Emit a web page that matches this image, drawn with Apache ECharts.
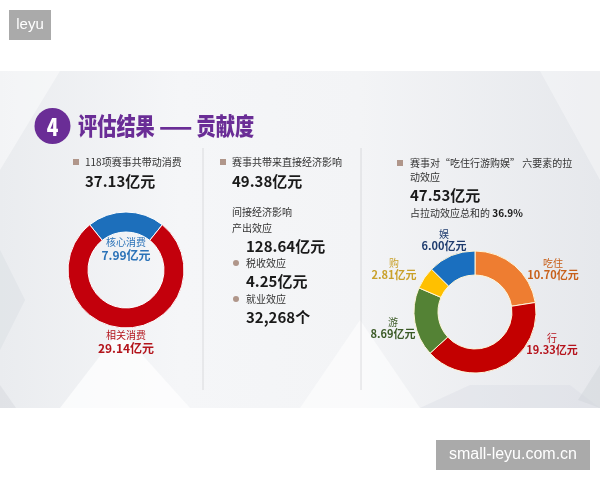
<!DOCTYPE html>
<html>
<head>
<meta charset="utf-8">
<script src="https://cdn.jsdelivr.net/npm/echarts@6/dist/echarts.min.js"></script>
<style>html,body{margin:0;padding:0;background:#fff;}#c{width:600px;height:480px;}</style>
</head>
<body>
<div id="c"></div>
<script>
// ---- data ----
var titleText = '评估结果 —— 贡献度';
var leftHeader = '118项赛事共带动消费';
var leftTotal = '37.13亿元';
var consumeNames = ['核心消费', '相关消费'];
var consumeValues = [7.99, 29.14];

var midHeader = '赛事共带来直接经济影响';
var midDirect = '49.38亿元';
var midIndirectTitle = '间接经济影响';
var effectNames = ['产出效应', '税收效应', '就业效应'];
var effectValues = ['128.64亿元', '4.25亿元', '32,268个'];

var rightHeader1 = '赛事对“吃住行游购娱” 六要素的拉';
var rightHeader2 = '动效应';
var rightTotal = '47.53亿元';
var rightShareLabel = '占拉动效应总和的 ';
var rightShare = '36.9%';
var elemNames = ['吃住', '行', '游', '购', '娱'];
var elemValues = [10.70, 19.33, 8.69, 2.81, 6.00];

// ---- styles ----
var FONT = '"Noto Sans CJK SC", "Noto Sans", sans-serif';
var consumeColors = ['#1d6fbb', '#c3000c'];
var consumeLabelColors = ['#2a72b8', '#b3141b'];
var elemColors = ['#ee7d31', '#c30000', '#548235', '#ffc000', '#1a6fbf'];
var elemLabelColors = ['#c8601a', '#b5121b', '#3b5a26', '#c9a12a', '#1f3c6e'];
var elemLabelPos = [[553, 263], [552, 338], [393, 322], [394, 263], [444, 234]];

var chart = echarts.init(document.getElementById('c'));

function txt(text, x, y, size, color, weight, align, extra) {
  var o = {
    type: 'text', z: 5,
    style: {
      text: text, x: x, y: y,
      font: (weight || 'normal') + ' ' + size + 'px ' + FONT,
      fill: color, textAlign: align || 'left', textVerticalAlign: 'middle'
    }
  };
  if (extra) for (var k in extra) o[k] = extra[k];
  return o;
}
function sq(x, y) {
  return { type: 'rect', z: 5, shape: { x: x - 3, y: y - 3, width: 6, height: 6 }, style: { fill: '#b0968a' } };
}
function dot(x, y) {
  return { type: 'circle', z: 5, shape: { cx: x, cy: y, r: 3 }, style: { fill: '#b0968a' } };
}

var sumConsume = consumeValues.reduce(function (a, b) { return a + b; }, 0);
var leftStart = 90 + consumeValues[0] / sumConsume * 360 / 2;

var graphics = [
  // slide background
  { type: 'rect', z: -10, shape: { x: 0, y: 71, width: 600, height: 337 },
    style: { fill: new echarts.graphic.LinearGradient(0, 0, 1, 0, [
      { offset: 0, color: '#eaecef' }, { offset: 0.3, color: '#f5f6f8' },
      { offset: 0.6, color: '#f3f4f6' }, { offset: 1, color: '#e6e8ec' }]) } },
  { type: 'polygon', z: -9, shape: { points: [[0, 71], [60, 71], [0, 170]] }, style: { fill: 'rgba(255,255,255,0.45)' } },
  { type: 'polygon', z: -9, shape: { points: [[0, 250], [25, 300], [0, 350]] }, style: { fill: 'rgba(205,210,216,0.25)' } },
  { type: 'polygon', z: -9, shape: { points: [[0, 385], [16, 408], [0, 408]] }, style: { fill: 'rgba(205,210,216,0.35)' } },
  { type: 'polygon', z: -9, shape: { points: [[60, 408], [120, 330], [190, 408]] }, style: { fill: 'rgba(255,255,255,0.7)' } },
  { type: 'polygon', z: -9, shape: { points: [[300, 408], [360, 320], [420, 408]] }, style: { fill: 'rgba(255,255,255,0.55)' } },
  { type: 'polygon', z: -9, shape: { points: [[420, 408], [470, 385], [570, 385], [600, 408]] }, style: { fill: 'rgba(215,219,225,0.35)' } },
  { type: 'polygon', z: -9, shape: { points: [[540, 71], [600, 71], [600, 180]] }, style: { fill: 'rgba(255,255,255,0.35)' } },
  { type: 'polygon', z: -9, shape: { points: [[578, 400], [600, 365], [600, 408]] }, style: { fill: 'rgba(205,210,216,0.4)' } },
  // dividers
  { type: 'line', z: -5, shape: { x1: 203, y1: 148, x2: 203, y2: 390 }, style: { stroke: 'rgba(200,200,205,0.6)', lineWidth: 1 } },
  { type: 'line', z: -5, shape: { x1: 361, y1: 148, x2: 361, y2: 390 }, style: { stroke: 'rgba(200,200,205,0.6)', lineWidth: 1 } },

  // watermarks
  { type: 'rect', z: 20, shape: { x: 9, y: 10, width: 42, height: 30 }, style: { fill: '#aaaaaa' } },
  { type: 'text', z: 21, style: { text: 'leyu', x: 30, y: 25, font: '15px "Liberation Sans", Arial, sans-serif', fill: '#fff', textAlign: 'center', textVerticalAlign: 'middle' } },
  { type: 'rect', z: 20, shape: { x: 436, y: 440, width: 154, height: 30 }, style: { fill: '#aaaaaa' } },
  { type: 'text', z: 21, style: { text: 'small-leyu.com.cn', x: 513, y: 455, font: '16px "Liberation Sans", Arial, sans-serif', fill: '#fff', textAlign: 'center', textVerticalAlign: 'middle' } },

  // title
  { type: 'circle', z: 5, shape: { cx: 52.5, cy: 126, r: 18 }, style: { fill: '#6a2d96' } },
  txt('4', 52.5, 127, 24, '#fff', '900', 'center', { scaleX: 0.8, originX: 52.5, originY: 127 }),
  txt(titleText, 78, 126, 24, '#6a2d96', '900', 'left', { scaleX: 0.8, originX: 78, originY: 126 }),

  // left column
  sq(76, 162),
  txt(leftHeader, 85, 162, 10, '#333', 'normal'),
  txt(leftTotal, 85, 181, 15, '#1a1a1a', 'bold'),
  txt(consumeNames[0], 126, 242, 10, consumeLabelColors[0], 'normal', 'center'),
  txt(consumeValues[0].toFixed(2) + '亿元', 126, 255, 12, consumeLabelColors[0], 'bold', 'center'),
  txt(consumeNames[1], 126, 335, 10, consumeLabelColors[1], 'normal', 'center'),
  txt(consumeValues[1].toFixed(2) + '亿元', 126, 348, 12, consumeLabelColors[1], 'bold', 'center'),

  // middle column
  sq(223, 162),
  txt(midHeader, 232, 162, 10, '#333', 'normal'),
  txt(midDirect, 232, 181, 15, '#1a1a1a', 'bold'),
  txt(midIndirectTitle, 232, 212, 10, '#333', 'normal'),
  txt(effectNames[0], 232, 228, 10, '#333', 'normal'),
  txt(effectValues[0], 246, 246, 15, '#1a1a1a', 'bold'),
  dot(236, 263),
  txt(effectNames[1], 246, 263, 10, '#333', 'normal'),
  txt(effectValues[1], 246, 281, 15, '#1a1a1a', 'bold'),
  dot(236, 299),
  txt(effectNames[2], 246, 299, 10, '#333', 'normal'),
  txt(effectValues[2], 246, 317, 15, '#1a1a1a', 'bold'),

  // right column
  sq(400, 163),
  txt(rightHeader1, 410, 163, 10, '#333', 'normal'),
  txt(rightHeader2, 410, 177, 10, '#333', 'normal'),
  txt(rightTotal, 410, 195, 15, '#1a1a1a', 'bold'),
  { type: 'text', z: 5, style: { text: '{a|' + rightShareLabel + '}{b|' + rightShare + '}', x: 410, y: 213, textVerticalAlign: 'middle',
      rich: { a: { fontFamily: FONT, fontSize: 10, fill: '#333', color: '#333' }, b: { fontFamily: FONT, fontSize: 10, fontWeight: 'bold', fill: '#1a1a1a', color: '#1a1a1a' } } } }
];

elemNames.forEach(function (n, i) {
  var p = elemLabelPos[i];
  graphics.push(txt(n, p[0], p[1], 10, elemLabelColors[i], 'normal', 'center'));
  graphics.push(txt(elemValues[i].toFixed(2) + '亿元', p[0], p[1] + 12, 11, elemLabelColors[i], 'bold', 'center'));
});

chart.setOption({
  animation: false,
  graphic: graphics,
  series: [
    {
      type: 'pie', center: [126, 270], radius: [38, 58], startAngle: leftStart, clockwise: true,
      label: { show: false }, labelLine: { show: false }, silent: true,
      itemStyle: { borderColor: '#ffffff', borderWidth: 1 },
      data: consumeNames.map(function (n, i) { return { name: n, value: consumeValues[i], itemStyle: { color: consumeColors[i] } }; })
    },
    {
      type: 'pie', center: [475, 312], radius: [37, 61], startAngle: 90, clockwise: true,
      label: { show: false }, labelLine: { show: false }, silent: true,
      itemStyle: { borderColor: '#fff6d8', borderWidth: 1 },
      data: elemNames.map(function (n, i) { return { name: n, value: elemValues[i], itemStyle: { color: elemColors[i] } }; })
    }
  ]
});
</script>
</body>
</html>
